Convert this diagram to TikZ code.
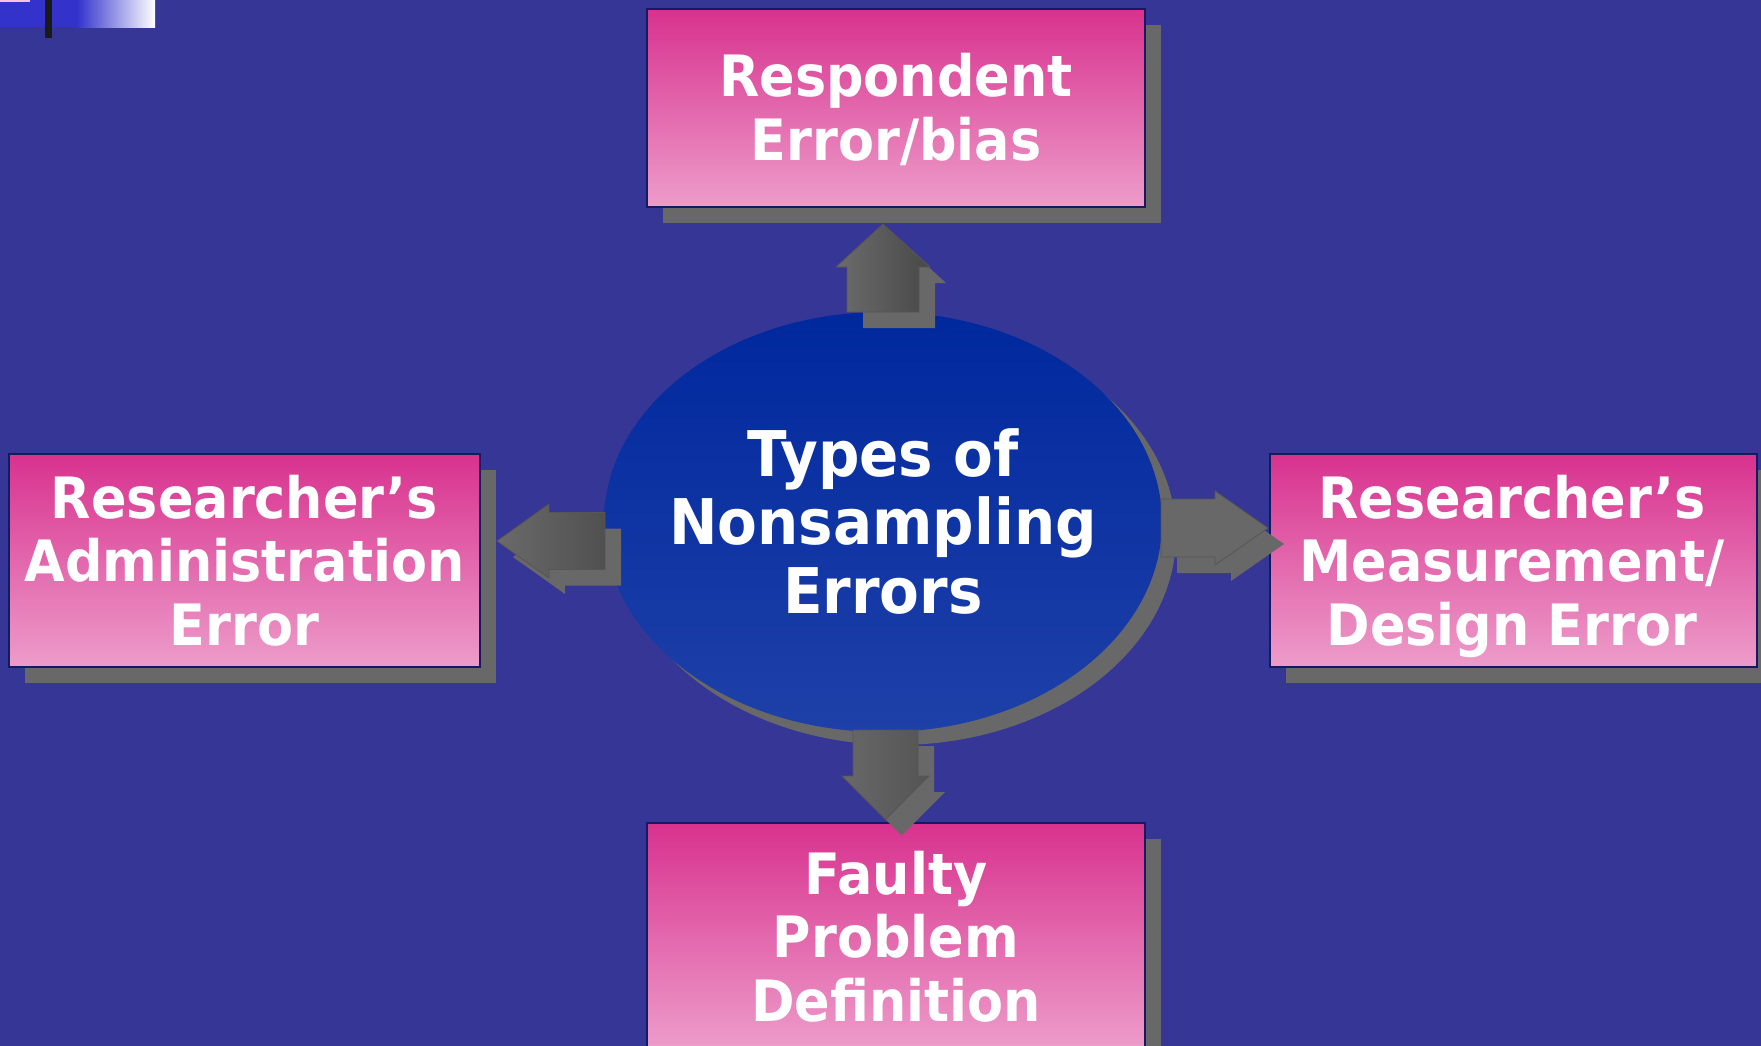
\documentclass[tikz,border=0pt]{standalone}
\usepackage{fontspec}
\usetikzlibrary{calc,shapes.geometric,shadows}
\newfontfamily\lblfont{DejaVu Sans}[FakeStretch=0.92]

\definecolor{slidebg}{RGB}{54,54,150}
\definecolor{boxtop}{RGB}{216,50,142}
\definecolor{boxbot}{RGB}{237,156,202}
\definecolor{boxedge}{RGB}{18,26,96}
\definecolor{shadowgray}{RGB}{104,104,104}
\definecolor{ovaltop}{RGB}{0,40,158}
\definecolor{ovalbot}{RGB}{30,64,168}
\definecolor{arrowedge}{RGB}{86,86,86}
\definecolor{decoblue}{RGB}{51,51,204}
\definecolor{decopink}{RGB}{255,192,222}
\definecolor{decodark}{RGB}{26,26,26}

% centred lines whose baseline is the baseline of the first line
\newcommand\stacked[1]{\begin{tabular}[t]{@{}c@{}}#1\end{tabular}}

% block arrow: #1 name, #2 style, #3 tail, #4 tip,
% #5 shaft half width, #6 head half width, #7 head length
\newcommand{\blockarrow}[7]{%
  \coordinate (#1a) at (#3);
  \coordinate (#1t) at (#4);
  \coordinate (#1b) at ($(#1t)!#7!(#1a)$);
  \path[#2] ($(#1a)!#5!90:(#1t)$) -- ($(#1b)!#5!90:(#1t)$)
    -- ($(#1b)!#6!90:(#1t)$) -- (#1t) -- ($(#1b)!#6!-90:(#1t)$)
    -- ($(#1b)!#5!-90:(#1t)$) -- ($(#1a)!#5!-90:(#1t)$) -- cycle;
}

\begin{document}
\begin{tikzpicture}[x=1pt,y=1pt,
  errbox/.style={rectangle, draw=boxedge, line width=2.5pt,
    top color=boxtop, bottom color=boxbot, inner sep=0pt, outer sep=0pt,
    drop shadow={shadow xshift=16pt, shadow yshift=-16pt, opacity=1, fill=shadowgray}},
  oval/.style={ellipse, minimum width=558pt, minimum height=420pt,
    inner sep=0pt, outer sep=0pt, top color=ovaltop, bottom color=ovalbot,
    drop shadow={shadow xshift=14pt, shadow yshift=-13pt, opacity=1, fill=shadowgray}},
  boxtext/.style={text=white, inner sep=0pt, anchor=base,
    font=\lblfont\bfseries\fontsize{57}{63.5}\selectfont},
  ovaltext/.style={text=white, inner sep=0pt, anchor=base,
    font=\lblfont\bfseries\fontsize{63}{68.5}\selectfont},
  arrowshadow/.style={fill=shadowgray},
  arrowbody/.style={draw=arrowedge, line width=0.8pt}
]
\useasboundingbox (0,0) rectangle (1761,-1046);
\clip (0,0) rectangle (1761,-1046);
\fill[slidebg] (0,0) rectangle (1761,-1046);

% corner mark
\fill[decoblue] (0,0) rectangle (78,-27);
\shade[left color=decoblue, right color=white] (77,0) rectangle (155,-28);
\fill[decopink] (0,0) rectangle (30,-2);
\fill[decodark] (45,0) rectangle (52,-38);

% the four error boxes
\node[errbox, minimum width=498pt, minimum height=198pt] (resp) at (896,-108) {};
\node[errbox, minimum width=471pt, minimum height=213pt] (admin) at (244.5,-560.5) {};
\node[errbox, minimum width=487pt, minimum height=213pt] (meas) at (1513.5,-560.5) {};
\node[errbox, minimum width=498pt, minimum height=225pt] (faulty) at (896,-935.5) {};

% central oval
\node[oval] (ell) at (883,-522) {};

% arrow ends
\coordinate (upTail) at (ell.north);
\coordinate (upTip) at (883,-224);
\coordinate (lfTail) at (605,-541);
\coordinate (lfTip) at (497,-541);
\coordinate (rtTail) at (1161,-528);
\coordinate (rtTip) at (1268,-528);
\coordinate (dnTail) at (885.5,-730);
\coordinate (dnTip) at (885.5,-819.5);

% up arrow
\blockarrow{upS}{arrowshadow}{$(upTail)+(16,-16)$}{$(upTip)+(16,-16)$}{36pt}{47pt}{43pt}
\blockarrow{upM}{arrowbody, left color={rgb,255:red,108;green,108;blue,108}, right color={rgb,255:red,72;green,72;blue,72}}{upTail}{upTip}{36pt}{47pt}{43pt}
% left arrow
\blockarrow{lfS}{arrowshadow}{$(lfTail)+(16,-16)$}{$(lfTip)+(16,-16)$}{28.5pt}{37pt}{52pt}
\blockarrow{lfM}{arrowbody, left color={rgb,255:red,106;green,106;blue,106}, right color={rgb,255:red,80;green,80;blue,80}}{lfTail}{lfTip}{28.5pt}{37pt}{52pt}
% right arrow
\blockarrow{rtS}{arrowshadow}{$(rtTail)+(16,-16)$}{$(rtTip)+(16,-16)$}{29pt}{37pt}{53pt}
\blockarrow{rtM}{arrowbody, fill=shadowgray}{rtTail}{rtTip}{29pt}{37pt}{53pt}
% down arrow
\blockarrow{dnS}{arrowshadow}{$(dnTail)+(16,-16)$}{$(dnTip)+(16,-16)$}{32.5pt}{43.5pt}{43.5pt}
\blockarrow{dnM}{arrowbody, left color={rgb,255:red,104;green,104;blue,104}, right color={rgb,255:red,84;green,84;blue,84}}{dnTail}{dnTip}{32.5pt}{43.5pt}{43.5pt}

% labels
\node[boxtext] (resp-text) at (896,-97) {\stacked{Respondent\\Error/bias}};
\node[boxtext] (admin-text) at (244.5,-518) {\stacked{Researcher’s\\Administration\\Error}};
\node[boxtext] (meas-text) at (1512,-518) {\stacked{Researcher’s\\Measurement/\\Design Error}};
\node[boxtext] (faulty-text) at (896,-894) {\stacked{Faulty\\Problem\\Definition}};
\node[ovaltext] (ell-text) at (883,-476) {\stacked{Types of\\Nonsampling\\Errors}};
\end{tikzpicture}
\end{document}
